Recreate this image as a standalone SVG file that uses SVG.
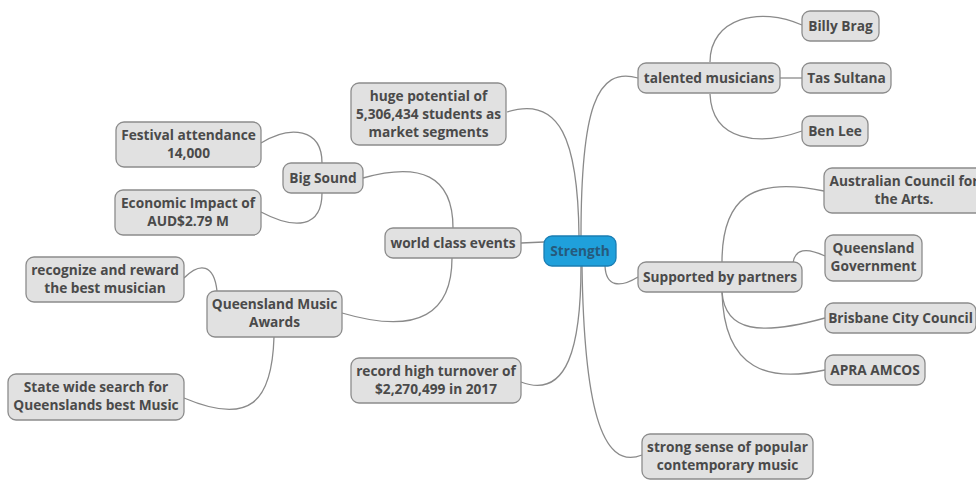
<svg xmlns="http://www.w3.org/2000/svg" width="976" height="486" viewBox="0 0 976 486">
  <style>
    .node rect { fill: #e1e1e1; stroke: #8c8c8c; stroke-width: 1.3; }
    .node text { font-family: "Open Sans", "Noto Sans", sans-serif; font-weight: bold; font-size: 13.7px; fill: #4a4a4a; text-anchor: middle; }
    #strength rect { fill: #1fa0db; stroke: #1b7db3; }
    #strength text { fill: #265a7c; }
    #connectors path { fill: none; stroke: #8a8a8a; stroke-width: 1.3; }
  </style>
  <rect width="976" height="486" fill="#ffffff"/>

  <g id="connectors">
    <!-- central topic branches -->
    <path d="M581,236 C581,110 596,66 638,78"/>
    <path d="M579,236 C578,140 560,95 507,112"/>
    <path d="M544,242 L521,243"/>
    <path d="M605,266 C606,287 620,288 638,277"/>
    <path d="M581,266 C581,345 568,400 521,382"/>
    <path d="M582,266 C584,400 600,472 642,455"/>
    <!-- world class events -->
    <path d="M453,228 C453,175 420,162 363,178"/>
    <path d="M452,258 C452,312 420,336 342,313"/>
    <!-- Big Sound -->
    <path d="M322,163 C322,128 290,125 261,143"/>
    <path d="M322,193 C322,228 295,230 261,212"/>
    <!-- Queensland Music Awards -->
    <path d="M217,291 C214,264 200,262 184,278"/>
    <path d="M274,337 C272,402 250,426 184,398"/>
    <!-- talented musicians -->
    <path d="M710,62 C710,18 760,6 802,25"/>
    <path d="M780,78 L802,78"/>
    <path d="M710,94 C712,142 760,146 802,131"/>
    <!-- Supported by partners -->
    <path d="M722,262 C722,198 752,176 824,191"/>
    <path d="M793,263 C795,249 806,247 825,256"/>
    <path d="M722,292 C725,332 760,336 825,318"/>
    <path d="M722,292 C724,372 770,382 825,370"/>
  </g>

  <g id="strength" class="node">
    <rect x="544" y="236" width="72" height="30" rx="8"/>
    <text x="580" y="255.5">Strength</text>
  </g>

  <g id="talented-musicians" class="node">
    <rect x="638" y="63" width="142" height="30" rx="8"/>
    <text x="709" y="82.5">talented musicians</text>
  </g>
  <g id="billy-brag" class="node">
    <rect x="802" y="11" width="77" height="30" rx="8"/>
    <text x="840.5" y="30.5">Billy Brag</text>
  </g>
  <g id="tas-sultana" class="node">
    <rect x="802" y="63" width="89" height="30" rx="8"/>
    <text x="846.5" y="82.5">Tas Sultana</text>
  </g>
  <g id="ben-lee" class="node">
    <rect x="802" y="116" width="66" height="30" rx="8"/>
    <text x="835" y="135.5">Ben Lee</text>
  </g>

  <g id="supported-by-partners" class="node">
    <rect x="638" y="262" width="164" height="30" rx="8"/>
    <text x="720" y="281.5">Supported by partners</text>
  </g>
  <g id="australian-council" class="node">
    <rect x="824" y="168" width="160" height="45" rx="8"/>
    <text x="904" y="186">Australian Council for</text>
    <text x="904" y="204">the Arts.</text>
  </g>
  <g id="queensland-government" class="node">
    <rect x="825" y="235" width="97" height="46" rx="8"/>
    <text x="873.5" y="253">Queensland</text>
    <text x="873.5" y="271">Government</text>
  </g>
  <g id="brisbane-city-council" class="node">
    <rect x="825" y="303" width="151" height="30" rx="8"/>
    <text x="900.5" y="322.5">Brisbane City Council</text>
  </g>
  <g id="apra-amcos" class="node">
    <rect x="825" y="355" width="100" height="30" rx="8"/>
    <text x="875" y="374.5">APRA AMCOS</text>
  </g>

  <g id="strong-sense" class="node">
    <rect x="642" y="434" width="171" height="45" rx="8"/>
    <text x="727.5" y="452">strong sense of popular</text>
    <text x="727.5" y="470">contemporary music</text>
  </g>

  <g id="huge-potential" class="node">
    <rect x="351" y="83" width="155" height="62" rx="8"/>
    <text x="428.5" y="101">huge potential of</text>
    <text x="428.5" y="119">5,306,434 students as</text>
    <text x="428.5" y="137">market segments</text>
  </g>

  <g id="world-class-events" class="node">
    <rect x="385" y="228" width="136" height="30" rx="8"/>
    <text x="453" y="247.5">world class events</text>
  </g>

  <g id="record-high-turnover" class="node">
    <rect x="351" y="358" width="170" height="45" rx="8"/>
    <text x="436" y="376">record high turnover of</text>
    <text x="436" y="394">$2,270,499 in 2017</text>
  </g>

  <g id="big-sound" class="node">
    <rect x="283" y="163" width="80" height="30" rx="8"/>
    <text x="323" y="182.5">Big Sound</text>
  </g>
  <g id="festival-attendance" class="node">
    <rect x="116" y="122" width="145" height="45" rx="8"/>
    <text x="188.5" y="140">Festival attendance</text>
    <text x="188.5" y="158">14,000</text>
  </g>
  <g id="economic-impact" class="node">
    <rect x="115" y="190" width="146" height="45" rx="8"/>
    <text x="188" y="208">Economic Impact of</text>
    <text x="188" y="226">AUD$2.79 M</text>
  </g>

  <g id="queensland-music-awards" class="node">
    <rect x="207" y="291" width="135" height="46" rx="8"/>
    <text x="274.5" y="309">Queensland Music</text>
    <text x="274.5" y="327">Awards</text>
  </g>
  <g id="recognize-reward" class="node">
    <rect x="26" y="257" width="158" height="45" rx="8"/>
    <text x="105" y="275">recognize and reward</text>
    <text x="105" y="293">the best musician</text>
  </g>
  <g id="state-wide-search" class="node">
    <rect x="8" y="374" width="176" height="46" rx="8"/>
    <text x="96" y="392">State wide search for</text>
    <text x="96" y="410">Queenslands best Music</text>
  </g>
</svg>
